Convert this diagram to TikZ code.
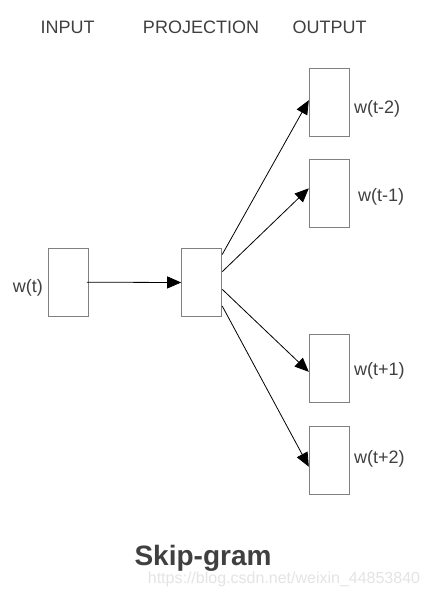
\documentclass[tikz,border=0pt]{standalone}
\usepackage{fontspec}
\setmainfont{Liberation Sans}
\usetikzlibrary{arrows.meta}
\definecolor{txt}{HTML}{404040}
\definecolor{boxc}{HTML}{808080}
\definecolor{wm}{HTML}{E4E4E4}
\begin{document}
\begin{tikzpicture}[x=1pt,y=-1pt,
  unit/.style={draw=boxc,line width=1pt,fill=white,minimum width=40pt,minimum height=68pt,inner sep=0pt},
  lbl/.style={text=txt,inner sep=0pt,font=\fontsize{18}{20}\selectfont},
  conn/.style={draw=black,line width=0.8pt,-{Triangle[length=14pt,width=12pt]}}]
\useasboundingbox[fill=white] (0,0) rectangle (430,596);
% headers
\node[lbl,anchor=base] (hin) at (67.5,33.3) {INPUT};
\node[lbl,anchor=base] (hpr) at (201,33.3) {PROJECTION};
\node[lbl,anchor=base] (hout) at (329.5,33.3) {OUTPUT};
% boxes
\node[unit] (in) at (68.3,282.2) {};
\node[unit] (proj) at (201.7,282.5) {};
\node[unit] (o1) at (329.3,102.2) {};
\node[unit] (o2) at (329.3,193.8) {};
\node[unit] (o3) at (329.3,368.8) {};
\node[unit] (o4) at (329.3,460.2) {};
% labels
\node[lbl,anchor=base east] (lin) at (43,292.7) {w(t)};
\node[lbl,anchor=base west] (l1) at (354,113.3) {w(t-2)};
\node[lbl,anchor=base west] (l2) at (358,201.7) {w(t-1)};
\node[lbl,anchor=base west] (l3) at (354,375) {w(t+1)};
\node[lbl,anchor=base west] (l4) at (354,463.3) {w(t+2)};
% connectors
\draw[conn] ([xshift=-2pt]in.east) -- (proj.west);
\draw[conn] ([yshift=28pt]proj.east) -- ([yshift=2pt]o1.west);
\draw[conn] ([yshift=10.8pt]proj.east) -- ([yshift=5.5pt]o2.west);
\draw[conn] ([yshift=-6.8pt]proj.east) -- ([yshift=-3pt]o3.west);
\draw[conn] ([yshift=-23.5pt]proj.east) -- ([yshift=-6.5pt]o4.west);
% caption
\node[text=txt,inner sep=0pt,anchor=base,font=\fontsize{28}{31}\selectfont\bfseries] (cap) at (203,565) {Skip-gram};
\node[text=wm,inner sep=0pt,anchor=base,font=\fontsize{16}{18}\selectfont] (wmk) at (284,583.3) {https://blog.csdn.net/weixin\_44853840};
\end{tikzpicture}
\end{document}
